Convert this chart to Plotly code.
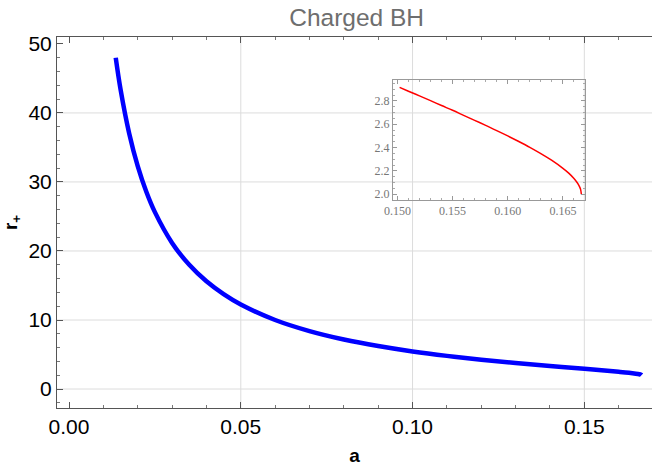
import plotly.graph_objects as go

# main curve: r+ versus a
a_main = [0.0136, 0.015, 0.0175, 0.020, 0.0225, 0.025, 0.030, 0.035, 0.040, 0.045,
          0.050, 0.060, 0.070, 0.080, 0.090, 0.100, 0.110, 0.120, 0.130, 0.140,
          0.150, 0.155, 0.160, 0.163, 0.165, 0.166, 0.1665, 0.16667]
r_main = [48.0, 43.42, 37.07, 32.30, 28.59, 25.63, 21.17, 17.99, 15.60, 13.74,
          12.24, 10.00, 8.39, 7.17, 6.22, 5.44, 4.80, 4.25, 3.77, 3.33,
          2.925, 2.72, 2.50, 2.35, 2.22, 2.135, 2.065, 2.00]

# inset curve (zoom near the end)
a_inset = [0.1502, 0.151, 0.152, 0.153, 0.154, 0.155, 0.156, 0.157, 0.158, 0.159,
           0.160, 0.161, 0.162, 0.163, 0.164, 0.165, 0.1655, 0.166, 0.1663, 0.1665,
           0.1666, 0.16667]
r_inset = [2.917, 2.884, 2.844, 2.803, 2.761, 2.720, 2.677, 2.634, 2.591, 2.546,
           2.500, 2.452, 2.402, 2.348, 2.290, 2.222, 2.183, 2.135, 2.098, 2.065,
           2.041, 2.000]

x_ticks = [0.00, 0.05, 0.10, 0.15]
y_ticks = [0, 10, 20, 30, 40, 50]
x_grid = [0.05, 0.10, 0.15]
y_grid = [0, 10, 20, 30, 40]
inset_x_ticks = [0.150, 0.155, 0.160, 0.165]
inset_y_ticks = [2.0, 2.2, 2.4, 2.6, 2.8]

fig = go.Figure()
fig.add_trace(go.Scatter(x=a_main, y=r_main, mode="lines",
                         line=dict(color="#0000ff", width=4.5, shape="spline"),
                         showlegend=False, hoverinfo="skip", cliponaxis=False))
fig.add_trace(go.Scatter(x=a_inset, y=r_inset, mode="lines", xaxis="x2", yaxis="y2",
                         line=dict(color="#ff0000", width=1.5, shape="spline"),
                         showlegend=False, hoverinfo="skip"))

shapes = []
for gx in x_grid:
    shapes.append(dict(type="line", xref="x", yref="paper", x0=gx, x1=gx, y0=0, y1=1,
                       line=dict(color="#dcdcdc", width=1), layer="below"))
for gy in y_grid:
    shapes.append(dict(type="line", xref="paper", yref="y", x0=0, x1=1, y0=gy, y1=gy,
                       line=dict(color="#dcdcdc", width=1), layer="below"))

main_font = dict(family="Liberation Sans, Arial, sans-serif", size=21, color="black")
inset_font = dict(family="Liberation Serif, Times New Roman, serif", size=12, color="#777777")
label_font = dict(family="Liberation Sans, Arial, sans-serif", size=19, color="black")

fig.update_layout(
    width=652, height=466,
    margin=dict(l=57, r=0, t=37, b=58),
    paper_bgcolor="white", plot_bgcolor="rgba(0,0,0,0)",
    shapes=shapes,
    title=dict(text="Charged BH", x=0.547, xanchor="center", y=0.9624, yanchor="middle",
               font=dict(family="Liberation Sans, Arial, sans-serif", size=24.5, color="#6e6e6e")),
    xaxis=dict(range=[-0.0035, 0.1697], tickvals=x_ticks, tickformat=".2f",
               ticks="inside", ticklen=6, tickcolor="#555555", tickwidth=1,
               minor=dict(dtick=0.01, tick0=0, ticks="inside", ticklen=3, tickcolor="#777777"),
               showline=True, linecolor="#555555", linewidth=1, mirror="ticks",
               showgrid=False, zeroline=False, tickfont=main_font, automargin=False,
               title=dict(text="<b>a</b>", font=label_font, standoff=11)),
    yaxis=dict(range=[-2.75, 51.0], tickvals=y_ticks,
               ticks="inside", ticklen=6, tickcolor="#555555", tickwidth=1,
               minor=dict(dtick=2, tick0=0, ticks="inside", ticklen=3, tickcolor="#777777"),
               showline=True, linecolor="#555555", linewidth=1,
               showgrid=False, zeroline=False, tickfont=main_font, automargin=False,
               title=dict(text="<b>r<sub>+</sub></b>", font=label_font, standoff=9)),
    xaxis2=dict(domain=[0.5647, 0.8874], anchor="y2", range=[0.1496, 0.1670],
                tickvals=inset_x_ticks, tickformat=".3f",
                ticks="inside", ticklen=4, tickcolor="#999999",
                minor=dict(dtick=0.001, tick0=0.15, ticks="inside", ticklen=2, tickcolor="#aaaaaa"),
                showline=True, linecolor="#999999", linewidth=1, mirror="ticks",
                showgrid=False, zeroline=False, tickfont=inset_font, automargin=False),
    yaxis2=dict(domain=[0.5606, 0.8841], anchor="x2", range=[1.95, 2.98],
                tickvals=inset_y_ticks, tickformat=".1f",
                ticks="inside", ticklen=4, tickcolor="#999999",
                minor=dict(dtick=0.05, tick0=2.0, ticks="inside", ticklen=2, tickcolor="#aaaaaa"),
                showline=True, linecolor="#999999", linewidth=1, mirror="ticks",
                showgrid=False, zeroline=False, tickfont=inset_font, automargin=False),
)

# remove the browser's default 8px body margin so the figure fills the window
fig.write_html("out.html", config={"displayModeBar": False},
               post_script="document.body.style.margin='0px';")
